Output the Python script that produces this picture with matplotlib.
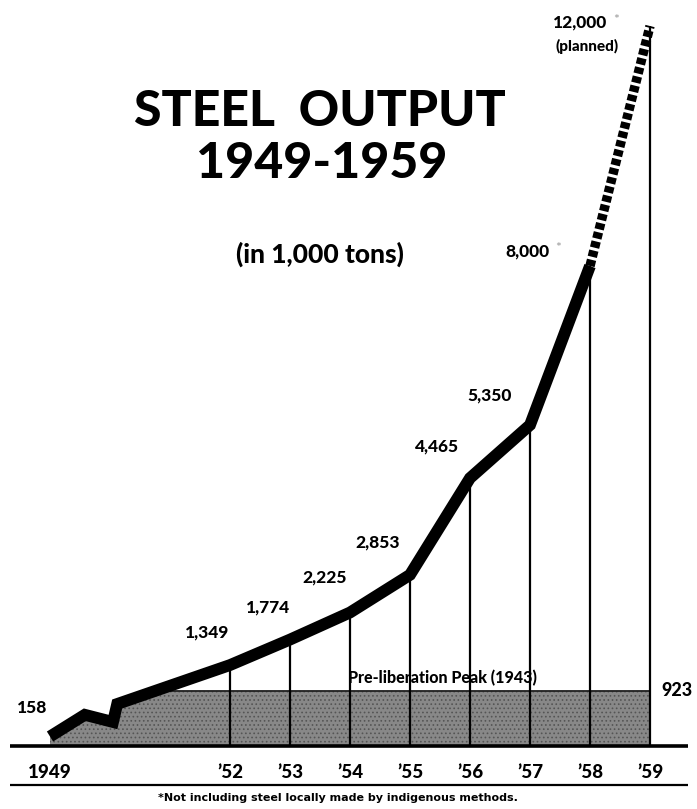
import numpy as np
import matplotlib.pyplot as plt

# steel output, thousand tons
years = [1949, 1952, 1953, 1954, 1955, 1956, 1957, 1958, 1959]
output = [158, 1349, 1774, 2225, 2853, 4465, 5350, 8000, 12000]
value_labels = ["158", "1,349", "1,774", "2,225", "2,853", "4,465", "5,350", "8,000", "12,000"]
tick_labels = ["1949", "’52", "’53", "’54", "’55", "’56", "’57", "’58", "’59"]
peak_1943 = 923

# broken stretch 1949-1952 as drawn (zigzag break mark)
break_x = [1949, 1949.58, 1950.05, 1950.12]
break_y = [158, 520, 400, 700]

plt.rcParams['font.family'] = ['Lato', 'DejaVu Sans']

W, H = 697, 809
fig = plt.figure(figsize=(W / 100, H / 100), dpi=100)
ax = fig.add_axes([0, 0, 1, 1])
ax.set_xlim(1949 - 50 / 60, 1949 + (W - 50) / 60)
ax.set_ylim(-(H - 746) * 16.667, 746 * 16.667)
ax.axis("off")


def px(x, y):
    # picture pixel -> data position, for placing text only
    return 1949 + (x - 50) / 60, (746 - y) * 16.667


solid_x = break_x + years[1:8]
solid_y = break_y + output[1:8]

# shaded pre-liberation peak block
gx = np.linspace(1949, 1959, 800)
gy = np.minimum(np.interp(gx, solid_x + [1959], solid_y + [12000]), peak_1943)
plt.rcParams['hatch.linewidth'] = 0.7
ax.fill_between(gx, 0, gy, facecolor="#888888", edgecolor="#555555", hatch="....", lw=0)
cross = np.interp(peak_1943, solid_y[3:5], solid_x[3:5])
ax.plot([cross, 1959], [peak_1943, peak_1943], color="#222", lw=1.3)

# drop lines
for yr, v in zip(years[1:], output[1:]):
    ax.plot([yr, yr], [0, v], color="black", lw=1.6, solid_capstyle="butt")

# main line
ax.plot(solid_x, solid_y, color="black", lw=8.5, solid_capstyle="butt", solid_joinstyle="miter")
ax.plot(years[7:9], output[7:9], color="black", lw=6.8, linestyle=(0, (0.68, 0.32)),
        dash_capstyle="butt")

# base rules
x0, _ = px(10, 0)
x1, _ = px(688, 0)
ax.plot([x0, x1], [0, 0], color="black", lw=2.6, solid_capstyle="butt")
_, yb = px(0, 785)
ax.plot([x0, x1], [yb, yb], color="black", lw=1.6, solid_capstyle="butt")

_, yt = px(0, 772)
for yr, lab in zip(years, tick_labels):
    ax.text(yr, yt, lab, ha="center", va="center", fontsize=13.5, fontweight="black")

# value labels, centres
label_px = [(32, 708), (207, 632), (268, 607), (325, 577), (378, 542), (437, 446), (490, 395),
            (527, 251), (580, 22)]
for lab, (lx, ly) in zip(value_labels, label_px):
    ax.text(*px(lx, ly), lab, ha="center", va="center", fontsize=12.5, fontweight="black")
ax.text(*px(555, 248), "*", fontsize=10, color="#999", ha="left", va="center")
ax.text(*px(613, 20), "*", fontsize=10, color="#999", ha="left", va="center")
ax.text(*px(587, 46), "(planned)", ha="center", va="center", fontsize=11, fontweight="black")
ax.text(*px(677, 691), "923", ha="center", va="center", fontsize=13, fontweight="black")
ax.text(*px(442, 678), "Pre-liberation Peak (1943)", ha="center", va="center",
        fontsize=11.5, fontweight="black")

# titles
ax.text(*px(320, 111), "STEEL  OUTPUT", ha="center", va="center", fontsize=36, fontweight="black")
ax.text(*px(322, 163), "1949-1959", ha="center", va="center", fontsize=36, fontweight="black")
ax.text(*px(320, 254), "(in 1,000 tons)", ha="center", va="center", fontsize=19, fontweight="black")

ax.text(*px(338, 798), "*Not including steel locally made by indigenous methods.",
        ha="center", va="center", fontsize=8, fontweight="bold", family="DejaVu Sans")

fig.savefig("out.png", dpi=100)
